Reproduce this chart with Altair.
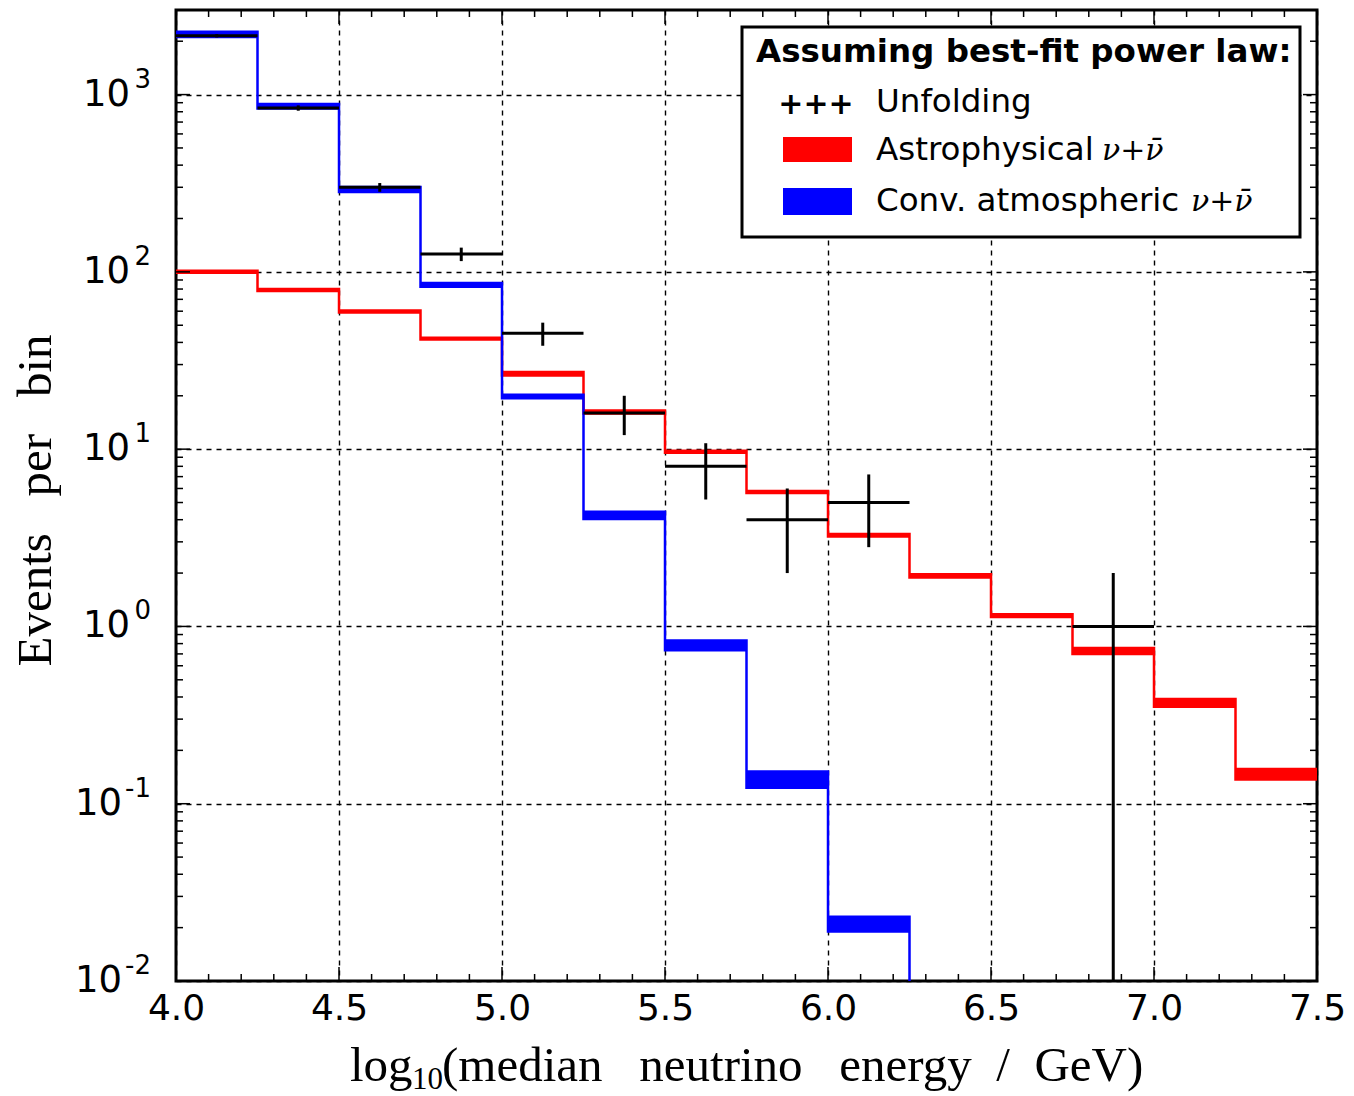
import altair as alt
import pandas as pd

# ---------------- data ----------------
bin_edges = [4.0, 4.25, 4.5, 4.75, 5.0, 5.25, 5.5, 5.75, 6.0, 6.25, 6.5, 6.75, 7.0, 7.25, 7.5]

# Astrophysical nu+nubar band (14 bins)
astro_lo = [99, 78, 59, 41.5, 26.0, 15.9, 9.55, 5.65, 3.22, 1.89, 1.13, 0.70, 0.352, 0.137]
astro_hi = [101.5, 80, 60.5, 42.5, 27.2, 16.5, 9.8, 5.8, 3.32, 1.97, 1.17, 0.755, 0.39, 0.157]

# Conventional atmospheric nu+nubar band (10 bins, last one below the axis)
conv_edges = [4.0, 4.25, 4.5, 4.75, 5.0, 5.25, 5.5, 5.75, 6.0, 6.25, 6.5]
conv_lo = [2113, 834, 282, 82.4, 19.4, 4.03, 0.733, 0.123, 0.0190, 0.004]
conv_hi = [2265, 885, 301, 86.5, 20.3, 4.43, 0.832, 0.152, 0.0230, 0.005]

# Unfolding points
unf_left = [4.0, 4.25, 4.5, 4.75, 5.0, 5.25, 5.5, 5.75, 6.0, 6.75]
unf_right = [4.25, 4.5, 4.75, 5.0, 5.25, 5.5, 5.75, 6.0, 6.25, 7.0]
unf_center = [4.125, 4.375, 4.625, 4.875, 5.125, 5.375, 5.625, 5.875, 6.125, 6.875]
unf_value = [2147, 840, 300, 126, 45, 16, 8, 4, 5, 1]
unf_low = [2101, 811, 283, 115, 38.3, 12, 5.2, 2.0, 2.8, 0.001]
unf_high = [2193, 869, 317, 137, 51.7, 20, 10.8, 6.0, 7.2, 2.0]

# ticks
x_major = [4.0, 4.5, 5.0, 5.5, 6.0, 6.5, 7.0, 7.5]
x_minor = [4.1, 4.2, 4.3, 4.4, 4.6, 4.7, 4.8, 4.9, 5.1, 5.2, 5.3, 5.4,
           5.6, 5.7, 5.8, 5.9, 6.1, 6.2, 6.3, 6.4, 6.6, 6.7, 6.8, 6.9,
           7.1, 7.2, 7.3, 7.4]
y_major = [0.01, 0.1, 1, 10, 100, 1000]
y_exponents = ["-2", "-1", "0", "1", "2", "3"]
y_minor = [0.02, 0.03, 0.04, 0.05, 0.06, 0.07, 0.08, 0.09,
           0.2, 0.3, 0.4, 0.5, 0.6, 0.7, 0.8, 0.9,
           2, 3, 4, 5, 6, 7, 8, 9,
           20, 30, 40, 50, 60, 70, 80, 90,
           200, 300, 400, 500, 600, 700, 800, 900,
           2000]

x_title_parts = ["log", "10", "(median\u2002 neutrino\u2002 energy\u2002/\u2002GeV)"]
y_title = "Events\u2002 per\u2002 bin"
legend_title = "Assuming best-fit power law:"
legend_labels = ["Unfolding", "Astrophysical", "Conv. atmospheric"]
nu_text = "ν+ν\u0304"

# ---------------- layout ----------------
W, H = 1141, 971
PAD = {"left": 176, "top": 10, "right": 37, "bottom": 115}
MAJ, MIN = 14, 7

xscale = alt.Scale(domain=[4.0, 7.5], nice=False, zero=False)
yscale = alt.Scale(type="log", domain=[0.01, 3000], nice=False)

x_axis = alt.Axis(values=x_major, format=".1f", grid=True, gridColor="black",
                  gridDash=[5, 5], gridWidth=1.4, gridOpacity=1, ticks=False, domain=False,
                  labelFont="DejaVu Sans", labelFontSize=36, labelColor="black",
                  labelPadding=10, labelFlush=False, title="")
y_axis = alt.Axis(values=y_major, labels=False, grid=True, gridColor="black",
                  gridDash=[5, 5], gridWidth=1.4, gridOpacity=1, ticks=False, domain=False,
                  title=y_title, titleFont="Liberation Serif", titleFontSize=49,
                  titleFontWeight="normal", titleColor="black", titleAngle=270,
                  titleX=-126, titleY=490, titleAlign="center", titleBaseline="alphabetic")


def X(field):
    return alt.X(field, scale=xscale, axis=x_axis)


def Y(field):
    return alt.Y(field, scale=yscale, axis=y_axis)


astro_df = pd.DataFrame({"x": bin_edges,
                         "lo": astro_lo + [astro_lo[-1]],
                         "hi": astro_hi + [astro_hi[-1]]})
conv_df = pd.DataFrame({"x": conv_edges,
                        "lo": conv_lo + [conv_lo[-1]],
                        "hi": conv_hi + [conv_hi[-1]]})
unf_df = pd.DataFrame({"left": unf_left, "right": unf_right, "c": unf_center,
                       "v": unf_value, "lo": unf_low, "hi": unf_high})

astro = alt.Chart(astro_df).mark_area(
    interpolate="step-after", color="#ff0000", stroke="#ff0000", strokeWidth=2.5,
    opacity=1, clip=True
).encode(x=X("x:Q"), y=Y("lo:Q"), y2="hi:Q")

conv = alt.Chart(conv_df).mark_area(
    interpolate="step-after", color="#0000ff", stroke="#0000ff", strokeWidth=2.5,
    opacity=1, clip=True
).encode(x=X("x:Q"), y=Y("lo:Q"), y2="hi:Q")

unf_h = alt.Chart(unf_df).mark_rule(color="black", strokeWidth=3, clip=True).encode(
    x=X("left:Q"), x2="right:Q", y=Y("v:Q"))
unf_v = alt.Chart(unf_df).mark_rule(color="black", strokeWidth=3, clip=True).encode(
    x=X("c:Q"), y=Y("lo:Q"), y2="hi:Q")

# inward ticks on all four sides
xmaj_df = pd.DataFrame({"x": x_major})
xmin_df = pd.DataFrame({"x": x_minor})
ymaj_df = pd.DataFrame({"y": y_major})
ymin_df = pd.DataFrame({"y": y_minor})


def xticks(df, ln):
    base = alt.Chart(df).mark_rule(color="black", strokeWidth=1.5)
    return [base.encode(x=X("x:Q"), y=alt.value(H - ln), y2=alt.value(H)),
            base.encode(x=X("x:Q"), y=alt.value(0), y2=alt.value(ln))]


def yticks(df, ln):
    base = alt.Chart(df).mark_rule(color="black", strokeWidth=1.5)
    return [base.encode(y=Y("y:Q"), x=alt.value(0), x2=alt.value(ln)),
            base.encode(y=Y("y:Q"), x=alt.value(W - ln), x2=alt.value(W))]


tick_layers = xticks(xmaj_df, MAJ) + xticks(xmin_df, MIN) + yticks(ymaj_df, MAJ) + yticks(ymin_df, MIN)

# y tick labels written as 10 with a raised exponent
ylab_df = pd.DataFrame({"y": y_major, "exp": y_exponents})
ylab_base = alt.Chart(ylab_df).mark_text(font="DejaVu Sans", fontSize=37, align="right",
                                         baseline="middle", color="black")
ylab_pos = ylab_base.transform_filter("datum.y >= 1").encode(
    y=Y("y:Q"), x=alt.value(-46), text=alt.value("10"))
ylab_neg = ylab_base.transform_filter("datum.y < 1").encode(
    y=Y("y:Q"), x=alt.value(-54), text=alt.value("10"))
ylab_exp = alt.Chart(ylab_df).mark_text(font="DejaVu Sans", fontSize=26, align="right",
                                        baseline="alphabetic", dy=-7, color="black").encode(
    y=Y("y:Q"), x=alt.value(-25), text="exp:N")

# ---------------- hand-made texts (x title, legend) ----------------
one = alt.Data(values=[{"k": 1}])


def txt(s, x, y, font="DejaVu Sans", size=32.5, weight="normal", style="normal",
        align="left", baseline="alphabetic", color="black"):
    return alt.Chart(one).mark_text(font=font, fontSize=size, fontWeight=weight,
                                    fontStyle=style, align=align, baseline=baseline,
                                    color=color).encode(
        x=alt.value(x), y=alt.value(y), text=alt.value(s))


xt1 = txt(x_title_parts[0], 174, H + 100, font="Liberation Serif", size=49)
xt2 = txt(x_title_parts[1], 236, H + 108, font="Liberation Serif", size=31)
xt3 = txt(x_title_parts[2], 266, H + 100, font="Liberation Serif", size=49)

box = alt.Chart(one).mark_rect(fill="white", stroke="black", strokeWidth=3).encode(
    x=alt.value(566), x2=alt.value(1124), y=alt.value(17), y2=alt.value(227))
leg_title = txt(legend_title, 580, 52, weight="bold")
leg_plus = txt("+++", 640, 95, weight="bold", size=30, align="center", baseline="middle")
leg_unf = txt(legend_labels[0], 700, 102)
red_sw = alt.Chart(one).mark_rect(fill="#ff0000").encode(
    x=alt.value(607), x2=alt.value(676), y=alt.value(127), y2=alt.value(152))
leg_astro = txt(legend_labels[1], 700, 150)
leg_astro_nu = txt(nu_text, 926, 150, font="DejaVu Serif", style="italic", size=30)
blue_sw = alt.Chart(one).mark_rect(fill="#0000ff").encode(
    x=alt.value(607), x2=alt.value(676), y=alt.value(178), y2=alt.value(205))
leg_conv = txt(legend_labels[2], 700, 201)
leg_conv_nu = txt(nu_text, 1015, 201, font="DejaVu Serif", style="italic", size=30)

chart = alt.layer(
    astro, conv, unf_h, unf_v, *tick_layers, ylab_pos, ylab_neg, ylab_exp,
    xt1, xt2, xt3,
    box, leg_title, leg_plus, leg_unf, red_sw, leg_astro, leg_astro_nu,
    blue_sw, leg_conv, leg_conv_nu,
).properties(
    width=W, height=H, padding=PAD, autosize=alt.AutoSizeParams(type="none"),
    background="white",
).configure_view(stroke="black", strokeWidth=3)

chart.save("out.html", embed_options={"renderer": "svg", "actions": False})
